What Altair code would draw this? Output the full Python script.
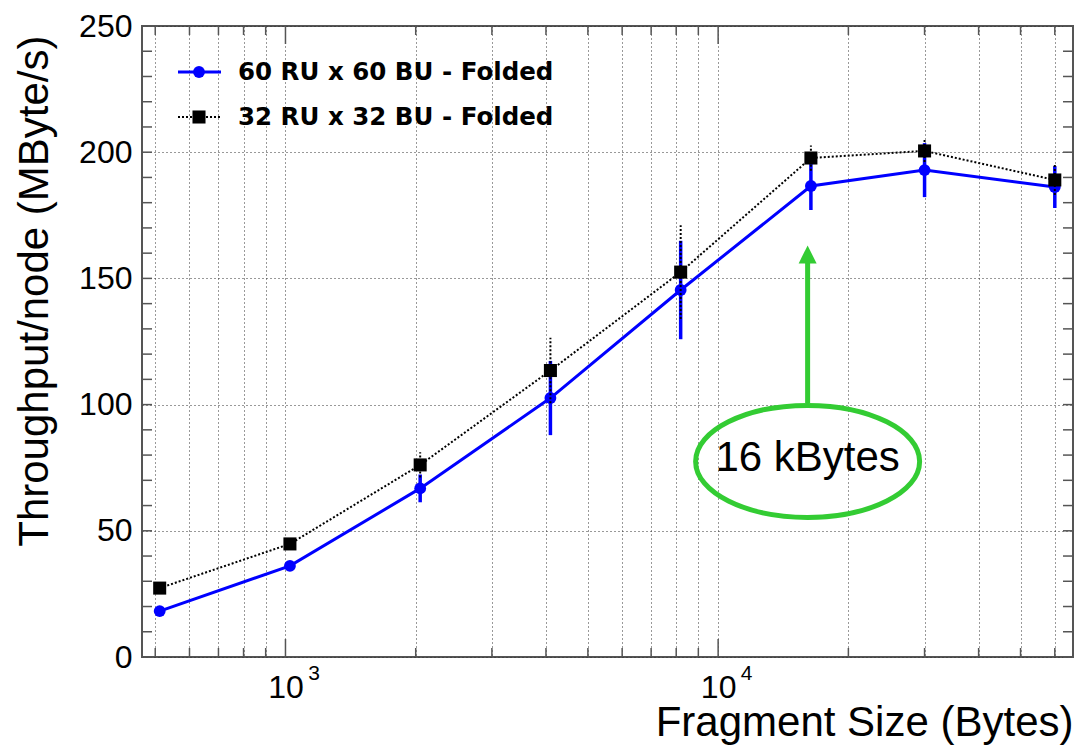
import altair as alt
import pandas as pd

# ---------------- data ----------------
sizes = [512, 1024, 2048, 4096, 8192, 16384, 30000, 60000]
thr_60 = [18.2, 36.1, 66.8, 102.6, 145.4, 186.6, 192.9, 186.2]
err_60 = [1.5, 1.5, 5.5, 14.7, 19.5, 9.5, 10.7, 8.3]
thr_32 = [27.3, 44.8, 76.1, 113.5, 152.5, 197.7, 200.5, 189.0]
err_32 = [1.5, 1.5, 5.0, 13.0, 18.6, 5.0, 4.4, 6.0]
series_names = ["60 RU x 60 BU - Folded", "32 RU x 32 BU - Folded"]

x_minor_ticks = [500, 600, 700, 800, 900,
                 2000, 3000, 4000, 5000, 6000, 7000, 8000, 9000,
                 20000, 30000, 40000, 50000, 60000]
x_major_ticks = [1000, 10000]
x_major_exponents = ["3", "4"]
x_grid_values = sorted(x_minor_ticks + x_major_ticks)
y_label_values = [0, 50, 100, 150, 200, 250]
y_tick_values = [0, 10, 20, 30, 40, 50, 60, 70, 80, 90, 100, 110, 120, 130, 140,
                 150, 160, 170, 180, 190, 200, 210, 220, 230, 240, 250]

annot_text = "16 kBytes"
annot_x = 16100
annot_text_y = 73.7
annot_ellipse_y = 77.5
arrow_y0 = 100.6
arrow_y1 = 157.0
arrow_head_y = 159.5

# ---------------- layout ----------------
W, H = 931, 631
FONT = "Liberation Sans"
BLUE = "#0000ff"
GREEN = "#33cc33"
FRAME = "#555555"

xscale = alt.Scale(type="log", domain=[466, 66100], nice=False)
yscale = alt.Scale(domain=[0, 250], nice=False, zero=False)

df60 = pd.DataFrame({"size": sizes, "thr": thr_60,
                     "lo": [t - e for t, e in zip(thr_60, err_60)],
                     "hi": [t + e for t, e in zip(thr_60, err_60)]})
df32 = pd.DataFrame({"size": sizes, "thr": thr_32,
                     "lo": [t - e for t, e in zip(thr_32, err_32)],
                     "hi": [t + e for t, e in zip(thr_32, err_32)]})

x_axis = alt.Axis(
    values=x_grid_values, grid=True, gridDash=[1, 3], gridColor="#333333", gridWidth=1,
    domain=False, ticks=False,
    labelExpr="(datum.value == 1000 || datum.value == 10000) ? '10' : ''",
    labelFont=FONT, labelFontSize=32, labelColor="black", labelPadding=15,
    labelOverlap=False, labelFlush=False,
    title="Fragment Size (Bytes)", titleFont=FONT, titleFontSize=42, titleFontWeight="normal",
    titleColor="black", titleAnchor="end", titleAlign="right", titleBaseline="alphabetic",
    titleX=W, titleY=78, titleAngle=0,
)
y_axis = alt.Axis(
    values=y_label_values, grid=True, gridDash=[1, 3], gridColor="#333333", gridWidth=1,
    domain=False, ticks=False,
    labelFont=FONT, labelFontSize=32, labelColor="black", labelPadding=10,
    labelFlush=False, labelBaseline="middle",
    title="Throughput/node (MByte/s)", titleFont=FONT, titleFontSize=42,
    titleFontWeight="normal", titleColor="black", titleAngle=270,
    titleAlign="right", titleBaseline="alphabetic", titleX=-95, titleY=9,
)

# main series
err60 = alt.Chart(df60).mark_rule(color=BLUE, strokeWidth=3.5).encode(
    x=alt.X("size:Q", scale=xscale, axis=x_axis),
    y=alt.Y("lo:Q", scale=yscale, axis=y_axis), y2="hi:Q")
line60 = alt.Chart(df60).mark_line(color=BLUE, strokeWidth=3).encode(
    x=alt.X("size:Q", scale=xscale), y=alt.Y("thr:Q", scale=yscale))
pts60 = alt.Chart(df60).mark_point(color=BLUE, filled=True, opacity=1, size=140,
                                   shape="circle").encode(
    x=alt.X("size:Q", scale=xscale), y=alt.Y("thr:Q", scale=yscale))

err32 = alt.Chart(df32).mark_rule(color="black", strokeWidth=2, strokeDash=[2, 2]).encode(
    x=alt.X("size:Q", scale=xscale), y=alt.Y("lo:Q", scale=yscale), y2="hi:Q")
line32 = alt.Chart(df32).mark_line(color="black", strokeWidth=2, strokeDash=[2, 2]).encode(
    x=alt.X("size:Q", scale=xscale), y=alt.Y("thr:Q", scale=yscale))
pts32 = alt.Chart(df32).mark_point(color="black", filled=True, opacity=1, size=170,
                                   shape="square").encode(
    x=alt.X("size:Q", scale=xscale), y=alt.Y("thr:Q", scale=yscale))

# inward ticks (ROOT style)
dfxmin = pd.DataFrame({"v": x_minor_ticks})
dfxmaj = pd.DataFrame({"v": x_major_ticks, "e": x_major_exponents})
dfy = pd.DataFrame({"v": y_tick_values})
tick_layers = []
for d, ln in [(dfxmin, 9), (dfxmaj, 18)]:
    tick_layers.append(alt.Chart(d).mark_rule(color=FRAME, strokeWidth=1.5).encode(
        x=alt.X("v:Q", scale=xscale), y=alt.value(H), y2=alt.value(H - ln)))
    tick_layers.append(alt.Chart(d).mark_rule(color=FRAME, strokeWidth=1.5).encode(
        x=alt.X("v:Q", scale=xscale), y=alt.value(0), y2=alt.value(ln)))
tick_layers.append(alt.Chart(dfy).mark_rule(color=FRAME, strokeWidth=1.5).encode(
    y=alt.Y("v:Q", scale=yscale), x=alt.value(0), x2=alt.value(10)))
tick_layers.append(alt.Chart(dfy).mark_rule(color=FRAME, strokeWidth=1.5).encode(
    y=alt.Y("v:Q", scale=yscale), x=alt.value(W), x2=alt.value(W - 10)))

# exponents of the decade labels (10^3, 10^4)
exponents = alt.Chart(dfxmaj).mark_text(font=FONT, fontSize=21, align="center",
                                        baseline="middle", color="black", dx=28.5).encode(
    x=alt.X("v:Q", scale=xscale), y=alt.value(H + 17), text="e:N")

# legend (drawn manually, top-left inside the frame)
leg = pd.DataFrame({"name": series_names})
leg60 = leg.iloc[[0]]
leg32 = leg.iloc[[1]]
legend_layers = [
    alt.Chart(leg60).mark_rule(color=BLUE, strokeWidth=3).encode(
        x=alt.value(36), x2=alt.value(79), y=alt.value(46)),
    alt.Chart(leg60).mark_point(color=BLUE, filled=True, opacity=1, size=140, shape="circle").encode(
        x=alt.value(57), y=alt.value(46)),
    alt.Chart(leg60).mark_text(font="DejaVu Sans", fontWeight="bold", fontSize=24.5,
                               align="left", baseline="alphabetic", color="black").encode(
        x=alt.value(96), y=alt.value(54), text="name:N"),
    alt.Chart(leg32).mark_rule(color="black", strokeWidth=2, strokeDash=[2, 2]).encode(
        x=alt.value(36), x2=alt.value(79), y=alt.value(91)),
    alt.Chart(leg32).mark_point(color="black", filled=True, opacity=1, size=170, shape="square").encode(
        x=alt.value(57), y=alt.value(91)),
    alt.Chart(leg32).mark_text(font="DejaVu Sans", fontWeight="bold", fontSize=24.5,
                               align="left", baseline="alphabetic", color="black").encode(
        x=alt.value(96), y=alt.value(99), text="name:N"),
]

# annotation: green arrow + ellipse + text
ann = pd.DataFrame({"x": [annot_x], "y0": [arrow_y0], "y1": [arrow_y1],
                    "yh": [arrow_head_y], "ye": [annot_ellipse_y],
                    "yt": [annot_text_y], "t": [annot_text]})
shaft = alt.Chart(ann).mark_rule(color=GREEN, strokeWidth=5).encode(
    x=alt.X("x:Q", scale=xscale), y=alt.Y("y0:Q", scale=yscale), y2="y1:Q")
head = alt.Chart(ann).mark_point(shape="M 0 -1 L 1 1 L -1 1 Z", filled=True, opacity=1,
                                 color=GREEN, size=324).encode(
    x=alt.X("x:Q", scale=xscale), y=alt.Y("yh:Q", scale=yscale))
ellipse = alt.Chart(ann).mark_point(
    shape="M -1 0 A 1 0.5 0 1 1 1 0 A 1 0.5 0 1 1 -1 0 Z",
    filled=False, stroke=GREEN, strokeWidth=5, opacity=1, size=224 * 224).encode(
    x=alt.X("x:Q", scale=xscale), y=alt.Y("ye:Q", scale=yscale))
atext = alt.Chart(ann).mark_text(font=FONT, fontSize=42, align="center",
                                 baseline="alphabetic", color="black").encode(
    x=alt.X("x:Q", scale=xscale), y=alt.Y("yt:Q", scale=yscale), text="t:N")

chart = alt.layer(
    err60, line60, pts60, err32, line32, pts32,
    *tick_layers, exponents, *legend_layers, shaft, head, ellipse, atext
).properties(
    width=W, height=H,
    padding={"left": 142, "top": 26, "right": 6, "bottom": 90},
    autosize=alt.AutoSizeParams(type="none"),
    background="white",
).configure_view(stroke=FRAME, strokeWidth=2)

chart.save("out.html", embed_options={"renderer": "svg", "actions": False})
